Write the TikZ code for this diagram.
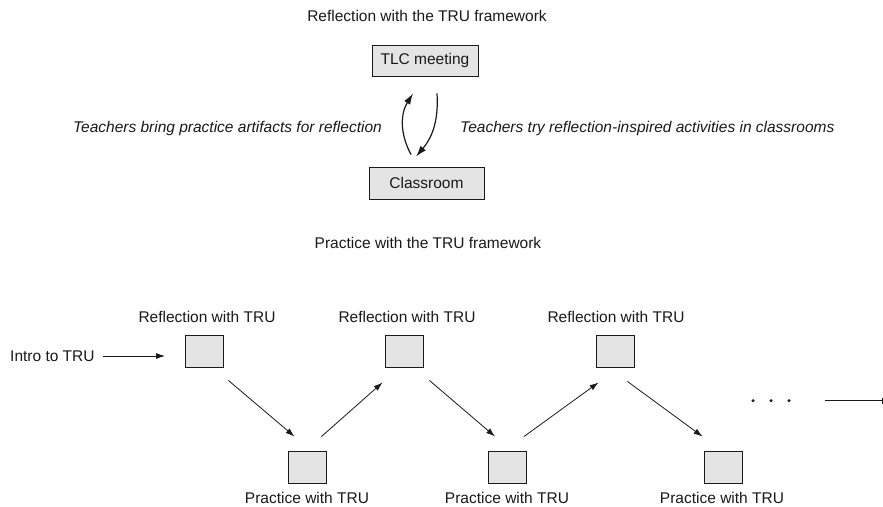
\documentclass[tikz,border=0pt]{standalone}
\usepackage{fontspec}
\setmainfont{Liberation Sans}
\usetikzlibrary{arrows.meta}
\definecolor{boxfill}{HTML}{E4E4E4}
\definecolor{linec}{HTML}{1A1A1A}
\begin{document}
\begin{tikzpicture}[x=1pt,y=-1pt,
  every node/.style={font=\fontsize{15.5}{18}\selectfont, text=black!90},
  bigbox/.style={draw=linec, line width=0.9pt, fill=boxfill, minimum height=31pt, inner sep=0pt},
  sqbox/.style={draw=linec, line width=0.9pt, fill=boxfill, minimum width=38pt, minimum height=32pt, inner sep=0pt},
  lbl/.style={inner sep=0pt},
  itl/.style={inner sep=0pt, font=\fontsize{15.5}{18}\selectfont\itshape},
  arr/.style={draw=linec, line width=0.8pt, -{Latex[length=9pt,width=6pt]}},
  carr/.style={draw=linec, line width=1.2pt, -{Latex[length=11pt,width=7pt]}}]
\useasboundingbox (0,0) rectangle (883,506);
% top part
\node[lbl] (title) at (427,16) {Reflection with the TRU framework};
\node[bigbox, minimum width=106pt] (tlc) at (425,60.5) {TLC meeting};
\node[bigbox, minimum width=115pt, minimum height=32pt] (cls) at (426.5,183) {Classroom};
\node[lbl] (prac) at (428,243) {Practice with the TRU framework};
\node[itl, anchor=east] (left) at (382,128) {Teachers bring practice artifacts for reflection};
\node[itl, anchor=west] (right) at (460,128) {Teachers try reflection-inspired activities in classrooms};
\draw[carr] ([shift={(-15.5,-12)}]cls.north) to[bend left=30] ([shift={(-12,17)}]tlc.south);
\draw[carr] ([shift={(12,17)}]tlc.south) to[bend left=22] ([shift={(-10.5,-10)}]cls.north);
% bottom part
\node[sqbox] (r1) at (204,351) {};
\node[sqbox] (r2) at (404,351) {};
\node[sqbox] (r3) at (615,351) {};
\node[sqbox] (p1) at (307,467) {};
\node[sqbox] (p2) at (507.5,467) {};
\node[sqbox] (p3) at (723,467) {};
\node[lbl] (r1l) at (207,317) {Reflection with TRU};
\node[lbl] (r2l) at (407,317) {Reflection with TRU};
\node[lbl] (r3l) at (616,317) {Reflection with TRU};
\node[lbl] (p1l) at (307,498) {Practice with TRU};
\node[lbl] (p2l) at (507,498) {Practice with TRU};
\node[lbl] (p3l) at (722,498) {Practice with TRU};
\node[lbl, anchor=west] (intro) at (10,356) {Intro to TRU};
\coordinate (introend) at (165,356);
\draw[arr] ([xshift=8pt]intro.east) -- (introend);
\draw[arr] ([shift={(5,13)}]r1.south east) -- ([shift={(7,-14)}]p1.north west);
\draw[arr] ([shift={(-5,-14)}]p1.north east) -- ([shift={(-2,15)}]r2.south west);
\draw[arr] ([shift={(6,13)}]r2.south east) -- ([shift={(7,-14)}]p2.north west);
\draw[arr] ([shift={(-3,-14)}]p2.north east) -- ([shift={(3,15)}]r3.south west);
\draw[arr] ([shift={(-7,14)}]r3.south east) -- ([shift={(-1,-14)}]p3.north west);
\foreach \x/\n in {753/d1,771/d2,789/d3} \fill[linec] (\x,400.7) circle (1.7pt) coordinate (\n);
\coordinate (ca) at (825,400.7);
\coordinate (cb) at (882.5,400.7);
\draw[draw=linec, line width=0.8pt, -{Bar[width=6pt,line width=0.8pt]}] (ca) -- (cb);
\end{tikzpicture}
\end{document}
